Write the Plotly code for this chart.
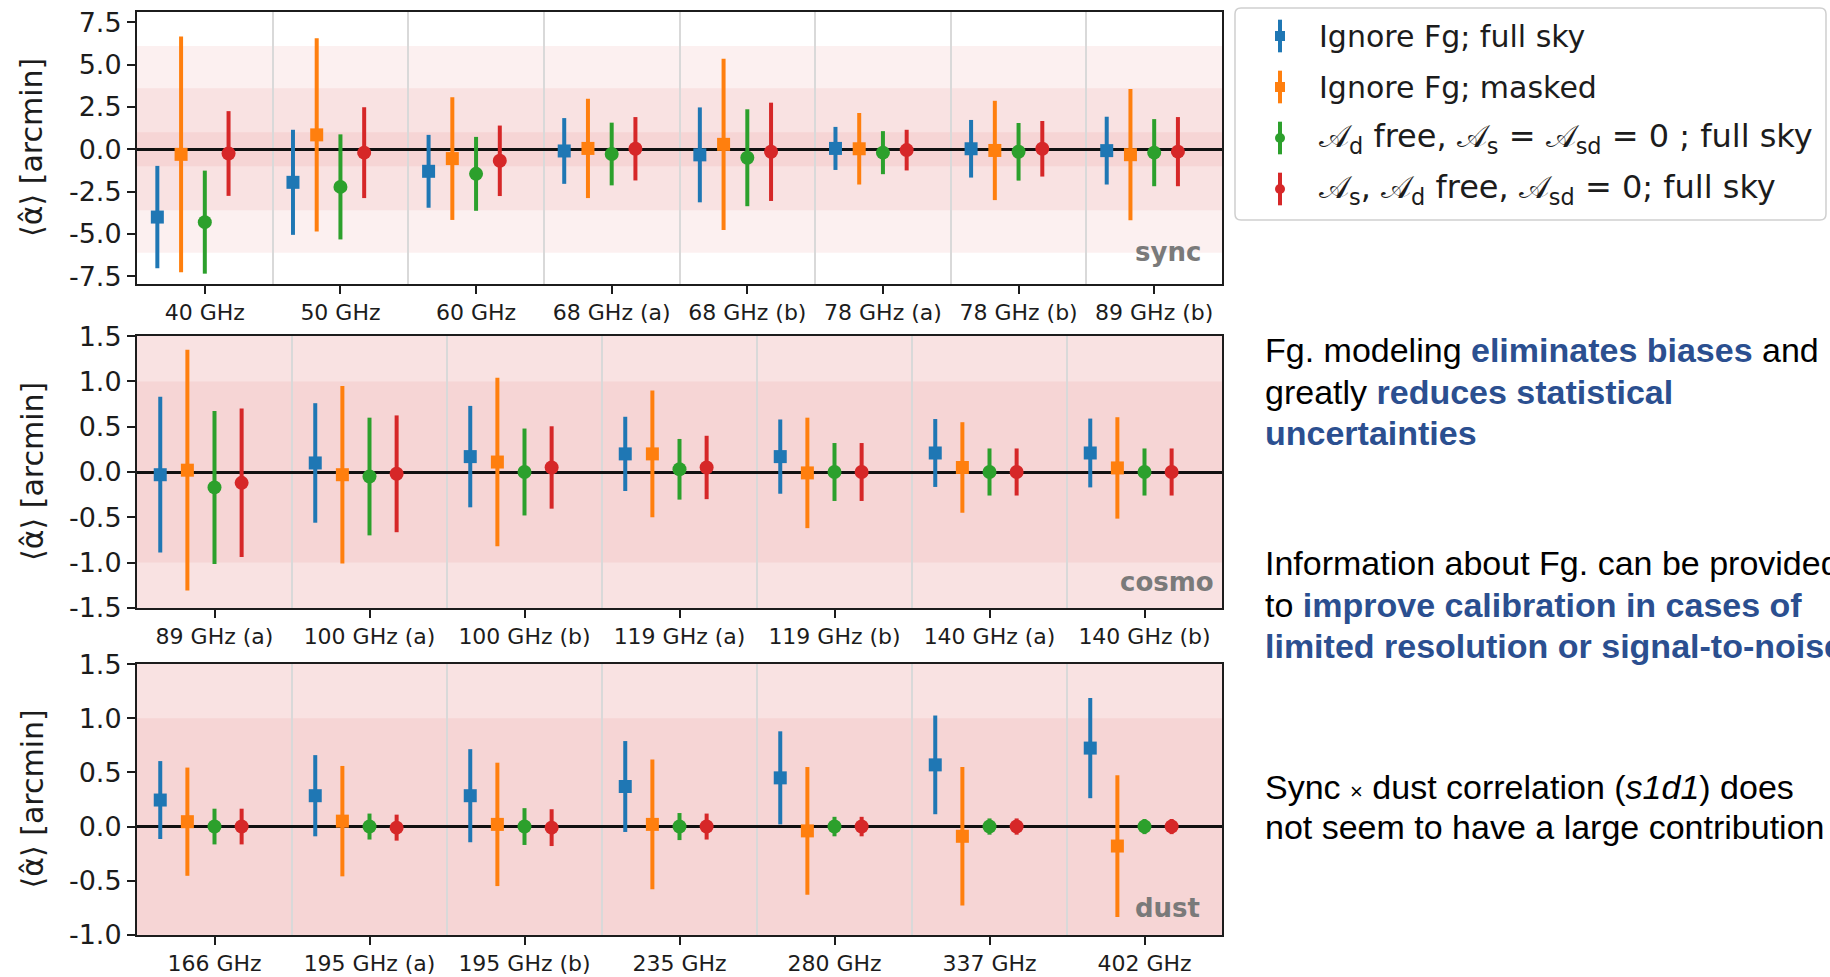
import plotly.graph_objects as go

W, H = 1830, 977

# ---------------------------------------------------------------- data
SYNC_CHANNELS = ["40 GHz", "50 GHz", "60 GHz", "68 GHz (a)", "68 GHz (b)",
                 "78 GHz (a)", "78 GHz (b)", "89 GHz (b)"]
COSMO_CHANNELS = ["89 GHz (a)", "100 GHz (a)", "100 GHz (b)", "119 GHz (a)",
                  "119 GHz (b)", "140 GHz (a)", "140 GHz (b)"]
DUST_CHANNELS = ["166 GHz", "195 GHz (a)", "195 GHz (b)", "235 GHz",
                 "280 GHz", "337 GHz", "402 GHz"]

# <alpha_hat> [arcmin] and 1-sigma spread, per method
sync_ignore_full = [-4.0, -1.95, -1.3, -0.1, -0.33, 0.05, 0.03, -0.08]
sync_ignore_full_err = [3.02, 3.1, 2.15, 1.94, 2.8, 1.27, 1.7, 2.0]
sync_ignore_masked = [-0.3, 0.85, -0.55, 0.05, 0.29, 0.03, -0.07, -0.32]
sync_ignore_masked_err = [6.95, 5.7, 3.62, 2.93, 5.05, 2.11, 2.93, 3.87]
sync_dust_free = [-4.3, -2.22, -1.45, -0.28, -0.5, -0.2, -0.15, -0.2]
sync_dust_free_err = [3.04, 3.1, 2.18, 1.85, 2.86, 1.27, 1.7, 1.98]
sync_both_free = [-0.25, -0.2, -0.68, 0.03, -0.15, -0.05, 0.03, -0.14]
sync_both_free_err = [2.5, 2.68, 2.08, 1.87, 2.9, 1.2, 1.64, 2.04]

cosmo_ignore_full = [-0.03, 0.1, 0.17, 0.2, 0.17, 0.21, 0.21]
cosmo_ignore_full_err = [0.86, 0.66, 0.56, 0.41, 0.41, 0.375, 0.38]
cosmo_ignore_masked = [0.02, -0.03, 0.11, 0.2, -0.01, 0.05, 0.045]
cosmo_ignore_masked_err = [1.33, 0.98, 0.93, 0.7, 0.61, 0.5, 0.56]
cosmo_dust_free = [-0.17, -0.05, 0.0, 0.03, 0.0, 0.0, 0.0]
cosmo_dust_free_err = [0.845, 0.65, 0.48, 0.335, 0.32, 0.26, 0.26]
cosmo_both_free = [-0.12, -0.02, 0.05, 0.05, 0.0, 0.0, 0.0]
cosmo_both_free_err = [0.82, 0.645, 0.455, 0.35, 0.32, 0.26, 0.26]

dust_ignore_full = [0.245, 0.285, 0.285, 0.37, 0.45, 0.57, 0.725]
dust_ignore_full_err = [0.36, 0.375, 0.43, 0.42, 0.43, 0.456, 0.463]
dust_ignore_masked = [0.045, 0.05, 0.02, 0.02, -0.04, -0.09, -0.18]
dust_ignore_masked_err = [0.5, 0.51, 0.57, 0.6, 0.59, 0.64, 0.655]
dust_dust_free = [0.0, 0.0, 0.0, 0.0, 0.0, 0.0, 0.0]
dust_dust_free_err = [0.165, 0.12, 0.17, 0.125, 0.09, 0.075, 0.07]
dust_both_free = [0.0, -0.01, -0.01, 0.0, 0.0, 0.0, 0.0]
dust_both_free_err = [0.165, 0.12, 0.17, 0.12, 0.09, 0.075, 0.07]

SERIES_LABELS = [
    "Ignore Fg; full sky",
    "Ignore Fg; masked",
    "𝒜<sub>d</sub> free, 𝒜<sub>s</sub> = 𝒜<sub>sd</sub> = 0 ; full sky",
    "𝒜<sub>s</sub>, 𝒜<sub>d</sub> free, 𝒜<sub>sd</sub> = 0; full sky",
]

# half-widths of the shaded tolerance bands [arcmin]
BAND_HALF_WIDTHS = [6.1, 3.6, 1.0]

# ---------------------------------------------------------------- style
COLORS = ["#1f77b4", "#ff7f0e", "#2ca02c", "#d62728"]
SYMBOLS = ["square", "square", "circle", "circle"]
MARKER_SIZES = [13, 13, 14, 14]
OFFSETS = [-0.35, -0.175, 0.0, 0.175]
LEGEND_FONT_SIZES = [30, 30, 32, 32]
BAND_FILL = "rgba(214,39,40,0.07)"
FONT = "DejaVu Sans"
TEXT_FONT = "Liberation Sans, Arial"
TEXT_BLUE = "#2b4f90"
INK = "#1c1c1c"


def px_x(x):
    return x / W


def px_y(y):
    return 1 - y / H


PLOT_X = [px_x(137), px_x(1222)]
panels = [
    dict(name="sync", channels=SYNC_CHANNELS, top=12, bottom=284,
         yrange=[-7.95, 8.1], yticks=[-7.5, -5.0, -2.5, 0.0, 2.5, 5.0, 7.5],
         series=[(sync_ignore_full, sync_ignore_full_err),
                 (sync_ignore_masked, sync_ignore_masked_err),
                 (sync_dust_free, sync_dust_free_err),
                 (sync_both_free, sync_both_free_err)],
         label_shift=(-19, 15)),
    dict(name="cosmo", channels=COSMO_CHANNELS, top=336, bottom=608,
         yrange=[-1.502, 1.502], yticks=[-1.5, -1.0, -0.5, 0.0, 0.5, 1.0, 1.5],
         series=[(cosmo_ignore_full, cosmo_ignore_full_err),
                 (cosmo_ignore_masked, cosmo_ignore_masked_err),
                 (cosmo_dust_free, cosmo_dust_free_err),
                 (cosmo_both_free, cosmo_both_free_err)],
         label_shift=(-6, 9)),
    dict(name="dust", channels=DUST_CHANNELS, top=664, bottom=935,
         yrange=[-1.002, 1.502], yticks=[-1.0, -0.5, 0.0, 0.5, 1.0, 1.5],
         series=[(dust_ignore_full, dust_ignore_full_err),
                 (dust_ignore_masked, dust_ignore_masked_err),
                 (dust_dust_free, dust_dust_free_err),
                 (dust_both_free, dust_both_free_err)],
         label_shift=(-20, 10)),
]

fig = go.Figure()
shapes = []
annotations = []

for p, panel in enumerate(panels, start=1):
    suffix = "" if p == 1 else str(p)
    xa, ya = f"x{suffix}", f"y{suffix}"
    n = len(panel["channels"])
    idx = list(range(n))

    for s, (vals, errs) in enumerate(panel["series"]):
        fig.add_trace(go.Scatter(
            x=[i + OFFSETS[s] for i in idx], y=vals,
            mode="markers",
            marker=dict(symbol=SYMBOLS[s], size=MARKER_SIZES[s],
                        color=COLORS[s], line=dict(width=0)),
            error_y=dict(type="data", array=errs, thickness=4, width=0,
                         color=COLORS[s]),
            xaxis=xa, yaxis=ya, showlegend=False, hoverinfo="skip",
        ))

    for hw in BAND_HALF_WIDTHS:
        shapes.append(dict(type="rect", xref=f"{xa} domain", yref=ya,
                           x0=0, x1=1, y0=-hw, y1=hw, fillcolor=BAND_FILL,
                           line=dict(width=0), layer="below"))

    dom_y = [px_y(panel["bottom"]), px_y(panel["top"])]
    fig.layout[f"xaxis{suffix}"] = dict(
        domain=PLOT_X, anchor=ya, range=[-0.5, n - 0.5],
        tickvals=idx, ticktext=panel["channels"],
        ticks="outside", ticklen=8, tickwidth=2, tickcolor=INK,
        tickfont=dict(family=FONT, size=22, color=INK),
        showgrid=False, zeroline=False, automargin=False,
        showline=True, linewidth=2, linecolor=INK, mirror=True,
        minor=dict(tick0=0.5, dtick=1, showgrid=True, gridcolor="#d9d9d9",
                   gridwidth=1.5, ticklen=0),
        fixedrange=True,
    )
    fig.layout[f"yaxis{suffix}"] = dict(
        domain=dom_y, anchor=xa, range=panel["yrange"],
        tickvals=panel["yticks"], ticktext=[f"{v:.1f}" for v in panel["yticks"]],
        ticks="outside", ticklen=8, tickwidth=2, tickcolor=INK,
        tickfont=dict(family=FONT, size=27, color=INK),
        showgrid=False, zeroline=True, zerolinecolor="#111111", zerolinewidth=2.5,
        showline=True, linewidth=2, linecolor=INK, mirror=True,
        automargin=False, fixedrange=True,
    )

    annotations.append(dict(
        xref="paper", yref="paper", x=px_x(32),
        y=(dom_y[0] + dom_y[1]) / 2, text="⟨α̂⟩ [arcmin]", textangle=-90,
        showarrow=False, xanchor="center", yanchor="middle",
        font=dict(family=FONT, size=30, color=INK)))
    dx, dy = panel["label_shift"]
    annotations.append(dict(
        xref=f"{xa} domain", yref=f"{ya} domain", x=1, y=0,
        xanchor="right", yanchor="bottom", xshift=dx, yshift=dy,
        text=f"<b>{panel['name']}</b>", showarrow=False,
        font=dict(family=FONT, size=26, color="#7a7a7a")))

# ---------------------------------------------------------------- legend
LEG_L, LEG_R, LEG_T, LEG_B = 1235, 1826, 8, 220
r = 6


def rounded_rect(x0, y0, x1, y1, rad):
    X = lambda v: f"{px_x(v):.5f}"
    Y = lambda v: f"{px_y(v):.5f}"
    return (f"M {X(x0 + rad)},{Y(y0)} L {X(x1 - rad)},{Y(y0)} "
            f"Q {X(x1)},{Y(y0)} {X(x1)},{Y(y0 + rad)} "
            f"L {X(x1)},{Y(y1 - rad)} Q {X(x1)},{Y(y1)} {X(x1 - rad)},{Y(y1)} "
            f"L {X(x0 + rad)},{Y(y1)} Q {X(x0)},{Y(y1)} {X(x0)},{Y(y1 - rad)} "
            f"L {X(x0)},{Y(y0 + rad)} Q {X(x0)},{Y(y0)} {X(x0 + rad)},{Y(y0)} Z")


shapes.append(dict(type="path", xref="paper", yref="paper",
                   path=rounded_rect(LEG_L, LEG_T, LEG_R, LEG_B, r),
                   fillcolor="white", line=dict(color="#cfcfcf", width=1.5),
                   layer="below"))

# legend rows live on a hidden axis: x in pixels from the box edge, y = row index
row_pitch = 51
first_row = 36
leg_top_idx = (6 - first_row) / row_pitch
leg_bot_idx = (219 - first_row) / row_pitch
fig.layout["xaxis4"] = dict(domain=[px_x(LEG_L), 1.0], range=[0, W - LEG_L],
                            visible=False, anchor="y4", fixedrange=True)
fig.layout["yaxis4"] = dict(domain=[px_y(219), px_y(6)],
                            range=[leg_bot_idx, leg_top_idx],
                            visible=False, anchor="x4", fixedrange=True)
for s, label in enumerate(SERIES_LABELS):
    fig.add_trace(go.Scatter(
        x=[45], y=[s], mode="markers",
        marker=dict(symbol=SYMBOLS[s], size=10, color=COLORS[s], line=dict(width=0)),
        error_y=dict(type="constant", value=0.32, thickness=4, width=0, color=COLORS[s]),
        xaxis="x4", yaxis="y4", showlegend=False, hoverinfo="skip"))
    annotations.append(dict(
        xref="x4", yref="y4", x=82, y=s, xanchor="left", yanchor="middle",
        text=label, showarrow=False,
        font=dict(family=FONT, size=LEGEND_FONT_SIZES[s], color=INK)))

# ---------------------------------------------------------------- notes
B = lambda t: f"<b><span style='color:{TEXT_BLUE}'>{t}</span></b>"
NOTE_LINES = [
    (350, f"Fg. modeling {B('eliminates biases')} and"),
    (392, f"greatly {B('reduces statistical')}"),
    (433, B("uncertainties")),
    (563, "Information about Fg. can be provided"),
    (605, f"to {B('improve calibration in cases of')}"),
    (646, B("limited resolution or signal-to-noise")),
    (787, "Sync <span style='font-size:22px'>×</span> dust correlation (<i>s1d1</i>) does"),
    (827, "not seem to have a large contribution"),
]
for yc, txt in NOTE_LINES:
    annotations.append(dict(
        xref="paper", yref="paper", x=px_x(1263), y=px_y(yc),
        xanchor="left", yanchor="middle", text=txt, showarrow=False,
        font=dict(family=TEXT_FONT, size=34, color="#000000")))

fig.update_layout(
    width=W, height=H,
    margin=dict(l=0, r=0, t=0, b=0, pad=0, autoexpand=False),
    paper_bgcolor="white", plot_bgcolor="white",
    shapes=shapes, annotations=annotations,
    showlegend=False, hovermode=False,
)

fig.write_html("out.html", config={"displayModeBar": False})
